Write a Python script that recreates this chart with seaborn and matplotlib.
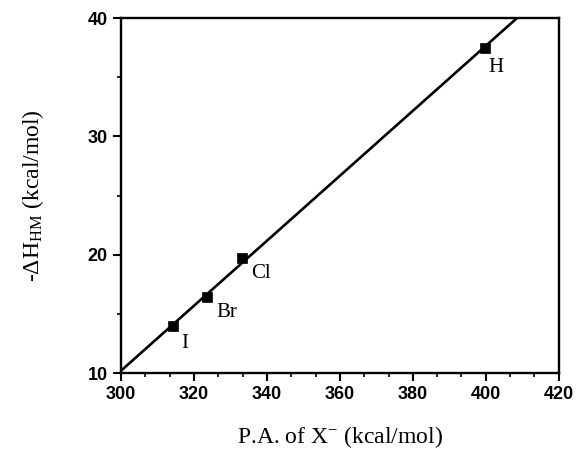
import matplotlib
matplotlib.use("Agg")
import matplotlib.pyplot as plt
import seaborn as sns
import pandas as pd
from matplotlib.ticker import AutoMinorLocator

# Data
halides = ["I", "Br", "Cl", "H"]
pa_values = [314.2, 323.6, 333.1, 399.7]
dh_values = [14.0, 16.4, 19.75, 37.5]
x_ticks = [300, 320, 340, 360, 380, 400, 420]
y_ticks = [10, 20, 30, 40]

df = pd.DataFrame({"pa": pa_values, "dh": dh_values, "name": halides})

sns.set_style("ticks")
plt.rcParams['font.family'] = ['Liberation Serif', 'DejaVu Serif']
plt.rcParams['mathtext.fontset'] = 'custom'
plt.rcParams['mathtext.rm'] = 'Liberation Serif'
plt.rcParams['mathtext.it'] = 'Liberation Serif:italic'
plt.rcParams['mathtext.bf'] = 'Liberation Serif:bold'
plt.rcParams['text.color'] = 'black'
plt.rcParams['axes.labelcolor'] = 'black'
plt.rcParams['xtick.color'] = 'black'
plt.rcParams['ytick.color'] = 'black'

fig = plt.figure(figsize=(5.79, 4.63), dpi=100)
ax = fig.add_axes([0.209, 0.194, 0.756, 0.767])
ax.set_xlim(300, 420)
ax.set_ylim(10, 40)

sns.regplot(data=df, x="pa", y="dh", ax=ax, ci=None, truncate=False,
            marker="s", color="black",
            scatter_kws={"s": 48, "edgecolor": "black", "linewidths": 0.5, "zorder": 3,
                         "alpha": 1},
            line_kws={"linewidth": 1.9, "color": "black"})

ax.set_xlim(300, 420)
ax.set_ylim(10, 40)

offsets = {"I": (6, -13), "Br": (7, -11), "Cl": (7, -11), "H": (3, -14)}
for n, x, y in zip(halides, pa_values, dh_values):
    dx, dy = offsets[n]
    ax.annotate(n, (x, y), xytext=(dx, dy), textcoords="offset points",
                fontsize=15, ha="left", va="center", family="Liberation Serif",
                color="black")

ax.set_xticks(x_ticks)
ax.set_yticks(y_ticks)
ax.xaxis.set_minor_locator(AutoMinorLocator(3))
ax.yaxis.set_minor_locator(AutoMinorLocator(2))
ax.tick_params(which="major", direction="out", length=6, width=1.5, color="black",
               labelsize=13, labelcolor="black")
ax.tick_params(which="minor", direction="out", length=3, width=1.2, color="black")
for lab in ax.get_xticklabels() + ax.get_yticklabels():
    lab.set_family("Liberation Sans")
    lab.set_fontweight("bold")

for sp in ax.spines.values():
    sp.set_visible(True)
    sp.set_linewidth(1.7)
    sp.set_color("black")

ax.set_xlabel(r"P.A. of X$^{-}$ (kcal/mol)", fontsize=17, labelpad=15, color="black")
ax.set_ylabel(r"-$\Delta$H$_{\mathrm{HM}}$ (kcal/mol)", fontsize=17, labelpad=30,
              color="black")

fig.savefig("out.png", dpi=100, facecolor="white")
